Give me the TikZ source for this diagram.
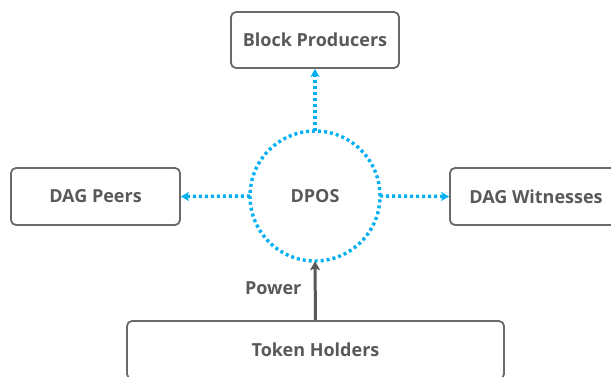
\documentclass[tikz,border=0pt]{standalone}
\usepackage{fontspec}
\setmainfont{Open Sans}
\usetikzlibrary{positioning,arrows.meta}
\definecolor{boxgray}{HTML}{595959}
\definecolor{dposblue}{HTML}{00B0F0}
\tikzset{
  label font/.style={text=boxgray, font=\bfseries\fontsize{18}{21}\selectfont},
  role/.style={draw=boxgray!90, line width=1.8pt, rounded corners=5pt, label font, inner sep=0pt},
  dotline/.style={dposblue, line width=3.4pt, dash pattern=on 3pt off 3pt},
  dotarrow/.style={dotline, -{Stealth[length=8pt,width=9pt,inset=2pt]}}
}
\begin{document}
\begin{tikzpicture}[x=1pt,y=-1pt]
			\useasboundingbox (0,0) rectangle (611,376);
			\clip (0,0) rectangle (611,376);
			
			\node[role, minimum width=168pt, minimum height=56pt] (producers) at (315,40) {Block Producers};
			\node[role, minimum width=169pt, minimum height=57pt] (peers) at (95.5,196.5) {DAG Peers};
			\node[role, minimum width=172pt, minimum height=57pt] (witnesses) at (536,196.5) {DAG Witnesses};
			\node[role, minimum width=377pt, minimum height=58pt] (holders) at (315.5,350) {Token Holders};
			
			\node[circle, minimum size=130pt, inner sep=0pt, label font] (dpos) at (315,196) {DPOS};
			\draw[dotline] (dpos.center) circle (65pt);
			
			\draw[dotarrow] (dpos.north) -- (producers.south);
			\draw[dotarrow] (dpos.west) -- (peers.east);
			\draw[dotarrow] (dpos.east) -- (witnesses.west);
			
			\draw[boxgray, line width=3pt, -{Stealth[length=9pt,width=10pt,inset=2pt]}]
				(holders.north) -- node[left=9pt, label font, yshift=2pt] (power) {Power} (dpos.south);
		
		\end{tikzpicture}
\end{document}
